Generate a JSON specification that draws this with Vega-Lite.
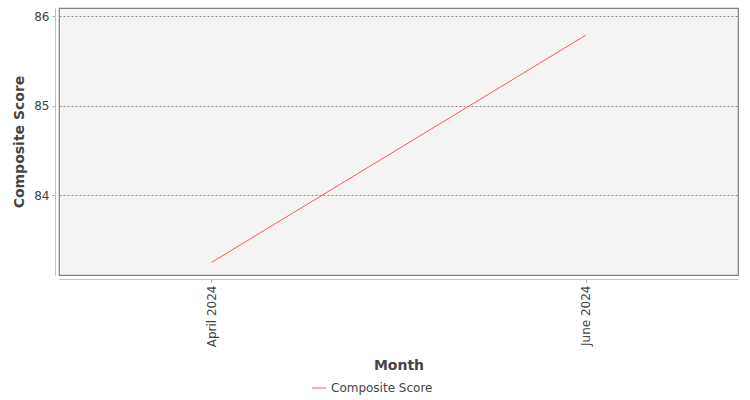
{
  "$schema": "https://vega.github.io/schema/vega-lite/v6.json",
  "autosize": "none",
  "width": 679,
  "height": 267,
  "padding": {"left": 59, "top": 8, "right": 12, "bottom": 125},
  "background": "white",
  "config": {
    "font": "DejaVu Sans",
    "view": {"fill": "#f4f4f4", "stroke": "#808080", "strokeWidth": 1.2}
  },
  "data": {
    "values": [
      {"Month": "April 2024", "Score": 83.25, "Series": "Composite Score"},
      {"Month": "June 2024", "Score": 85.79, "Series": "Composite Score"}
    ]
  },
  "mark": {"type": "line", "strokeWidth": 1},
  "encoding": {
    "x": {
      "field": "Month",
      "type": "ordinal",
      "sort": null,
      "title": "Month",
      "scale": {"type": "point", "padding": 0.407},
      "axis": {
        "offset": 4,
        "domainColor": "#c0c0c0",
        "tickColor": "#b0b0b0",
        "tickSize": 3,
        "labelAngle": -90,
        "labelAlign": "right",
        "labelBaseline": "middle",
        "labelFontSize": 12,
        "labelColor": "#444444",
        "labelPadding": 3,
        "titleFontSize": 14,
        "titleFontWeight": "bold",
        "titleColor": "#444444",
        "titlePadding": 12,
        "grid": false
      }
    },
    "y": {
      "field": "Score",
      "type": "quantitative",
      "title": "Composite Score",
      "scale": {"domain": [83.11, 86.095], "nice": false, "zero": false},
      "axis": {
        "values": [84, 85, 86],
        "offset": 4,
        "domainColor": "#c0c0c0",
        "tickColor": "#b0b0b0",
        "tickSize": 3,
        "labelFontSize": 12,
        "labelColor": "#444444",
        "labelPadding": 3,
        "titleFontSize": 14,
        "titleFontWeight": "bold",
        "titleColor": "#444444",
        "titlePadding": 7,
        "grid": true,
        "gridColor": "#888888",
        "gridDash": [2, 2],
        "gridWidth": 1
      }
    },
    "color": {
      "field": "Series",
      "type": "nominal",
      "scale": {"range": ["#ff5555"]},
      "legend": {
        "orient": "none",
        "legendX": 252,
        "legendY": 372,
        "direction": "horizontal",
        "title": null,
        "symbolType": "stroke",
        "symbolSize": 200,
        "symbolStrokeWidth": 1,
        "labelFontSize": 12,
        "labelColor": "#444444"
      }
    }
  }
}
